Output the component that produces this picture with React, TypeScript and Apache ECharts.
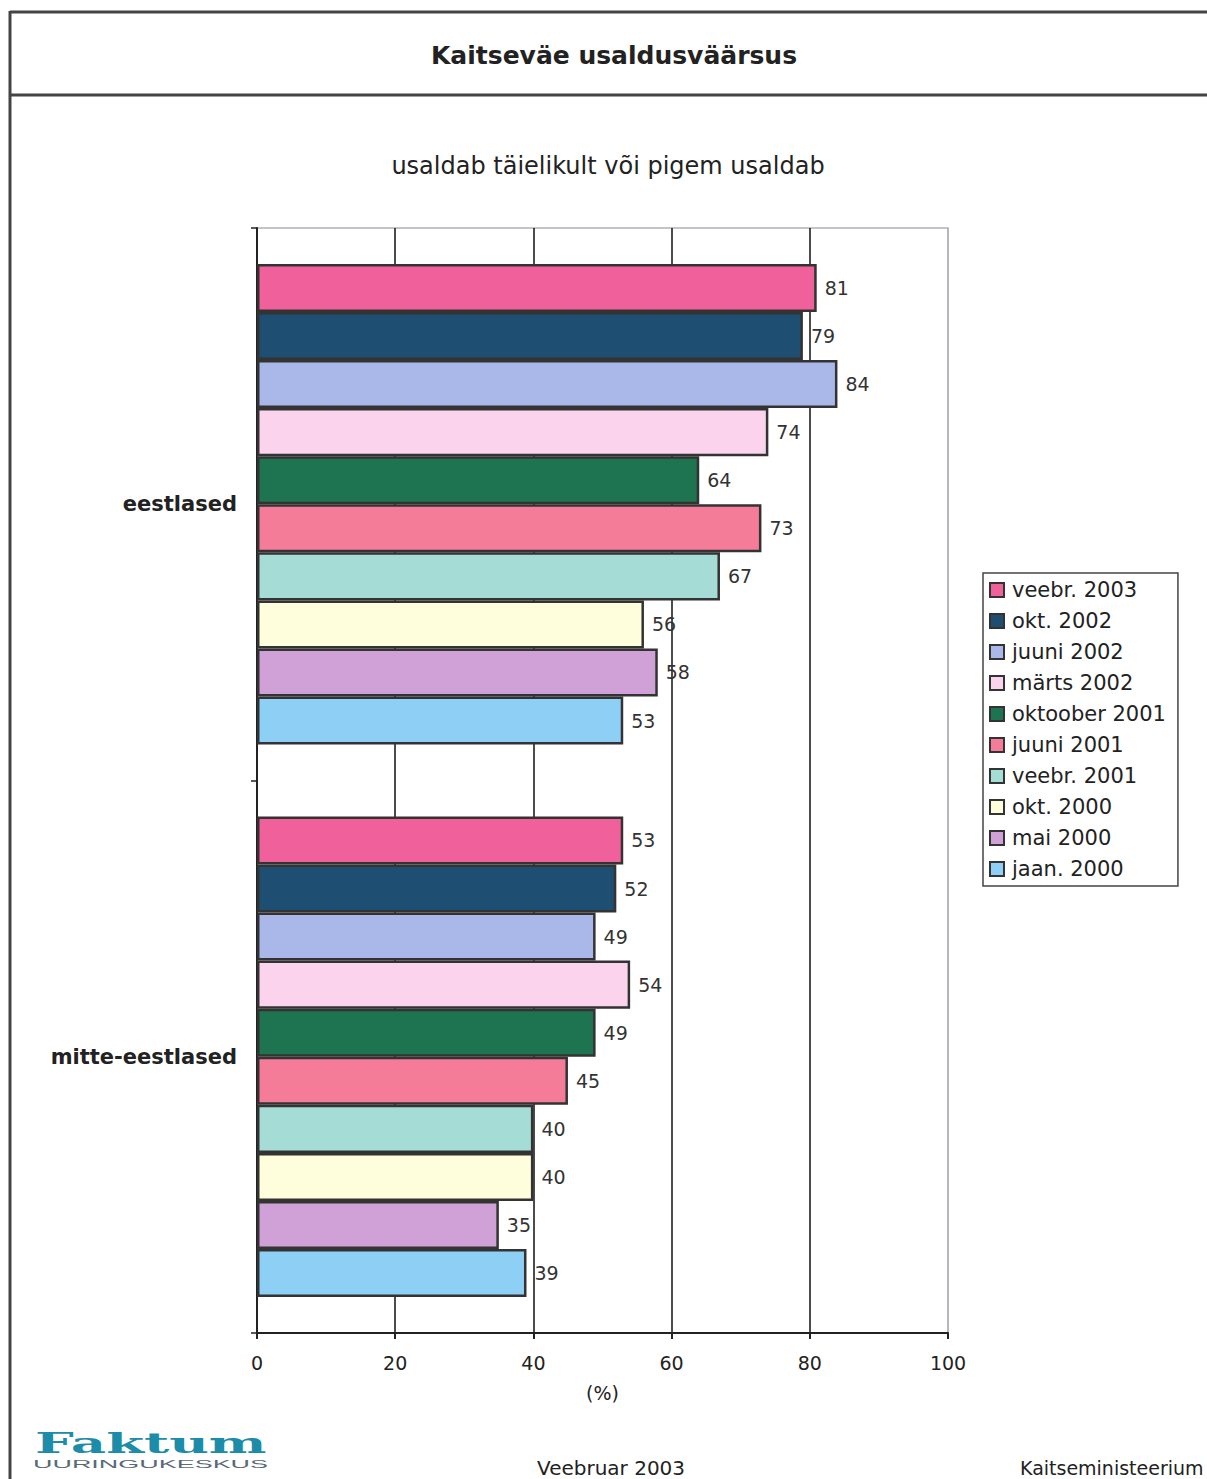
import React, { useEffect, useRef } from "react";
import * as echarts from "echarts";

const categories = ["eestlased", "mitte-eestlased"];
const seriesNames = [
  "veebr. 2003",
  "okt. 2002",
  "juuni 2002",
  "märts 2002",
  "oktoober 2001",
  "juuni 2001",
  "veebr. 2001",
  "okt. 2000",
  "mai 2000",
  "jaan. 2000",
];
const eestlased = [81, 79, 84, 74, 64, 73, 67, 56, 58, 53];
const mitteEestlased = [53, 52, 49, 54, 49, 45, 40, 40, 35, 39];
const seriesColors = [
  "#F0609A",
  "#1F4E73",
  "#A9B8E8",
  "#FCD3EC",
  "#1E7450",
  "#F57C98",
  "#A6DCD6",
  "#FEFDDC",
  "#CFA1D6",
  "#8ECFF5",
];
const xTicks = { min: 0, max: 100, interval: 20 };

const FONT = "'DejaVu Sans', 'Liberation Sans', Arial, sans-serif";
const ARIAL = "'Liberation Sans', Arial, sans-serif";

export default function App() {
  const ref = useRef<HTMLDivElement>(null);
  useEffect(() => {
    if (!ref.current) return;
    const chart = echarts.init(ref.current, null, { renderer: "svg" });
    const series = seriesNames.map((name, i) => ({
      name,
      type: "bar",
      data: [eestlased[i], mitteEestlased[i]],
      barGap: "0%",
      barCategoryGap: "13%",
      itemStyle: { color: seriesColors[i], borderColor: "#333", borderWidth: 2.5 },
      label: {
        show: true,
        position: "right",
        distance: 8,
        fontSize: 19,
        color: "#333",
        fontFamily: FONT,
      },
      z: 3,
    }));
    chart.setOption({
      animation: false,
      textStyle: { fontFamily: FONT },
      grid: {
        left: 257,
        right: 259,
        top: 228,
        bottom: 146,
        show: true,
        borderColor: "#b0b0b8",
        borderWidth: 1.5,
      },
      legend: {
        orient: "vertical",
        left: 983,
        top: 573,
        itemWidth: 14,
        itemHeight: 14,
        itemGap: 9,
        padding: [6, 12, 6, 6],
        borderColor: "#444",
        borderWidth: 1.5,
        icon: "rect",
        textStyle: { fontSize: 21, color: "#222", fontFamily: FONT, padding: [0, 0, 0, 3], lineHeight: 22 },
        data: seriesNames,
      },
      xAxis: {
        type: "value",
        min: xTicks.min,
        max: xTicks.max,
        interval: xTicks.interval,
        name: "(%)",
        nameLocation: "middle",
        nameGap: 50,
        nameTextStyle: { fontSize: 19, color: "#222", fontFamily: FONT },
        axisLine: { show: true, lineStyle: { color: "#222", width: 2 } },
        axisTick: { show: true, length: 6, lineStyle: { color: "#222", width: 2 } },
        axisLabel: { fontSize: 19, color: "#222", margin: 20, fontFamily: FONT },
        splitLine: {
          show: true,
          lineStyle: {
            color: ["#111", "#111", "#111", "#111", "#111", "#b0b0b8"],
            width: 1.5,
          },
        },
      },
      yAxis: {
        type: "category",
        data: categories,
        inverse: true,
        axisLine: { show: true, lineStyle: { color: "#222", width: 2 } },
        axisTick: { show: true, length: 6, inside: false, lineStyle: { color: "#222", width: 1.5 } },
        axisLabel: { fontSize: 21, fontWeight: "bold", color: "#222", margin: 20, fontFamily: FONT },
      },
      series,
      graphic: [
        { type: "line", shape: { x1: 10, y1: 12, x2: 1207, y2: 12 }, style: { stroke: "#444", lineWidth: 3 } },
        { type: "line", shape: { x1: 10, y1: 95, x2: 1207, y2: 95 }, style: { stroke: "#444", lineWidth: 3 } },
        { type: "line", shape: { x1: 10, y1: 11, x2: 10, y2: 1479 }, style: { stroke: "#444", lineWidth: 3 } },
        {
          type: "text",
          x: 614,
          y: 55,
          style: {
            text: "Kaitseväe usaldusväärsus",
            fontSize: 25,
            fontWeight: "bold",
            fill: "#222",
            fontFamily: FONT,
            align: "center",
            verticalAlign: "middle",
          },
        },
        {
          type: "text",
          x: 608,
          y: 166,
          style: {
            text: "usaldab täielikult või pigem usaldab",
            fontSize: 24,
            fill: "#222",
            fontFamily: FONT,
            align: "center",
            verticalAlign: "middle",
          },
        },
        {
          type: "text",
          x: 35,
          y: 1443,
          scaleX: 1.95,
          style: {
            text: "Faktum",
            fontSize: 28,
            fontWeight: "bold",
            fill: "#1C8CA8",
            fontFamily: "'DejaVu Serif', 'Liberation Serif', serif",
            verticalAlign: "middle",
          },
        },
        {
          type: "text",
          x: 33,
          y: 1464,
          scaleX: 2.45,
          style: {
            text: "UURINGUKESKUS",
            fontSize: 11,
            fill: "#5a6a7a",
            fontFamily: ARIAL,
            verticalAlign: "middle",
          },
        },
        {
          type: "text",
          x: 537,
          y: 1468,
          style: {
            text: "Veebruar 2003",
            fontSize: 20,
            fill: "#222",
            fontFamily: FONT,
            verticalAlign: "middle",
          },
        },
        {
          type: "text",
          x: 1020,
          y: 1468,
          style: {
            text: "Kaitseministeerium",
            fontSize: 19,
            fill: "#222",
            fontFamily: FONT,
            verticalAlign: "middle",
          },
        },
      ],
    });
    return () => chart.dispose();
  }, []);
  return (
    <div
      ref={ref}
      style={{ position: "absolute", left: 0, top: 0, width: 1207, height: 1479, background: "#fff" }}
    />
  );
}
